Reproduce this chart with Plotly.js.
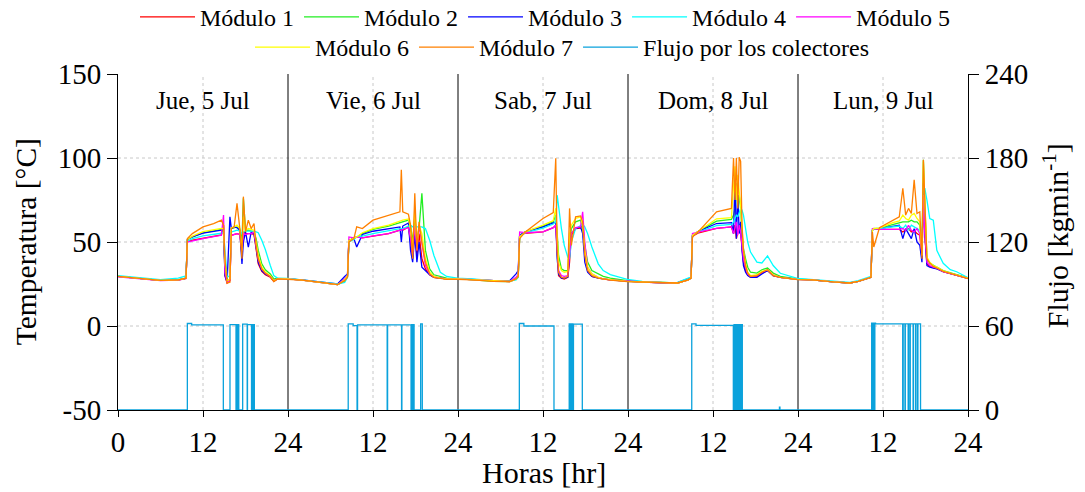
<!DOCTYPE html>
<html>
<head>
<meta charset="utf-8">
<script src="https://cdn.plot.ly/plotly-3.0.1.min.js"></script>
<style>html,body{margin:0;padding:0;background:#fff;}#chart{width:1085px;height:492px;}</style>
</head>
<body>
<div id="chart"></div>
<script>
// ---------- data ----------
const horas = [
  0, 3, 6, 8.5, 9.6, 9.8, 10.5, 12, 13.5, 14.6, 14.9, 15.1, 15.4, 15.8, 16.0, 16.4, 16.8, 17.2, 17.5, 17.7, 18.0, 18.4, 18.8, 19.2, 19.5, 19.8, 20.3, 20.8, 21.5, 22.0, 22.5, 23.9,
  26, 29, 31, 32.0, 32.4, 32.6, 33.3, 33.7, 34.5, 36, 38.2, 39.8, 40.0, 40.2, 41.0, 41.3, 41.6, 41.9, 42.2, 42.5, 42.9, 43.4, 44.0, 44.6, 45.5, 46.4, 47.9,
  50, 53, 55.3, 56.2, 56.5, 56.7, 57.5, 60.0, 61.45, 61.8, 62.0, 62.2, 62.6, 63.0, 63.5, 63.75, 64.0, 64.6, 65.3, 65.6, 65.9, 66.3, 66.9, 67.8, 68.5, 69.5, 71.9,
  74, 77.9, 79.0, 80.5, 80.9, 81.1, 82.0, 84.5, 86.6, 86.9, 87.1, 87.3, 87.5, 87.7, 87.9, 88.1, 88.3, 88.6, 88.9, 89.3, 90.2, 90.9, 91.7, 92.5, 93.5, 95.9,
  98, 101, 103.3, 104.5, 105.8, 106.3, 106.5, 106.7, 107.5, 109.4, 110.3, 110.8, 111.2, 111.6, 112.0, 112.4, 112.8, 113.2, 113.5, 113.7, 113.9, 114.2, 114.6, 115.1, 115.6, 116.5, 117.5, 118.4, 120
];

const modulo1 = [
  29.5, 28.4, 27.2, 27.3, 28.3, 50.5, 51.0, 52.5, 53.5, 54.2, 60.0, 30.0, 25.5, 27.0, 54.0, 54.5, 55.0, 54.5, 42.0, 56.0, 55.0, 55.0, 55.0, 54.5, 46.0, 37.0, 32.5, 30.5, 29.0, 26.5, 28.0, 28.0,
  27.3, 25.8, 24.6, 27.0, 29.5, 51.0, 52.0, 53.0, 52.5, 53.6, 55.0, 57.0, 57.5, 57.0, 59.0, 50.0, 40.0, 58.0, 42.0, 55.0, 40.0, 34.0, 30.5, 29.0, 28.5, 28.0, 28.0,
  27.5, 26.6, 26.5, 28.0, 29.5, 54.0, 55.2, 56.0, 58.5, 60.0, 40.0, 30.0, 28.5, 28.0, 29.0, 38.0, 54.0, 58.0, 58.3, 62.0, 45.0, 33.0, 29.5, 28.5, 28.0, 27.5, 26.6,
  26.2, 25.6, 25.6, 27.5, 28.5, 53.5, 55.5, 58.1, 59.0, 55.0, 60.0, 52.0, 56.0, 60.0, 55.0, 45.0, 38.0, 33.0, 30.5, 29.0, 29.5, 31.5, 33.0, 30.0, 29.0, 27.8,
  27.5, 26.3, 25.6, 26.5, 28.4, 29.0, 57.0, 58.0, 57.5, 57.5, 57.5, 56.0, 57.0, 58.0, 56.0, 57.0, 55.0, 54.0, 40.0, 80.0, 55.0, 37.0, 35.5, 34.8, 34.2, 32.3, 31.3, 30.4, 28.4
];
const modulo2 = [
  29.5, 28.4, 27.2, 27.5, 28.5, 51.5, 53.0, 55.5, 56.8, 57.5, 56.0, 35.0, 27.0, 28.0, 58.0, 58.5, 59.0, 57.5, 50.0, 76.0, 57.0, 57.0, 56.5, 56.0, 52.0, 45.0, 37.0, 33.5, 31.0, 28.0, 28.3, 28.2,
  27.3, 25.8, 24.6, 27.0, 29.5, 51.0, 52.0, 53.0, 55.0, 57.5, 59.5, 61.4, 61.5, 62.0, 63.0, 60.0, 50.0, 65.0, 52.0, 58.0, 79.0, 45.0, 34.0, 30.5, 29.5, 28.5, 28.2,
  27.5, 26.6, 26.5, 28.0, 29.0, 54.0, 56.0, 59.4, 62.0, 66.0, 55.0, 42.0, 34.0, 33.0, 33.0, 50.0, 58.0, 62.0, 63.0, 58.0, 48.0, 38.0, 33.0, 31.0, 29.5, 28.5, 27.0,
  26.2, 25.6, 25.6, 27.5, 28.5, 54.0, 56.5, 62.4, 63.5, 66.0, 70.0, 85.0, 68.0, 78.0, 70.0, 55.0, 46.0, 40.0, 35.0, 32.0, 31.5, 33.5, 34.5, 31.5, 29.5, 28.0,
  27.5, 26.3, 25.6, 26.5, 28.4, 29.0, 57.0, 58.0, 58.3, 60.5, 61.5, 62.0, 62.0, 62.0, 63.0, 62.0, 62.0, 60.0, 45.0, 99.0, 72.0, 40.0, 37.5, 36.0, 35.0, 33.0, 31.5, 30.6, 28.6
];
const modulo3 = [
  29.5, 28.4, 27.2, 27.5, 28.5, 51.5, 53.0, 55.3, 56.5, 57.0, 58.0, 30.0, 26.0, 65.0, 58.0, 59.0, 58.5, 57.0, 37.0, 50.0, 56.0, 47.0, 56.0, 55.0, 47.0, 38.0, 33.0, 31.0, 29.5, 27.0, 28.0, 28.0,
  27.5, 26.0, 25.0, 29.5, 31.0, 51.0, 52.0, 47.0, 54.5, 56.4, 57.7, 59.0, 50.0, 59.5, 61.3, 45.0, 38.0, 55.0, 38.0, 50.0, 35.0, 33.0, 30.5, 29.0, 28.5, 28.0, 28.0,
  27.8, 27.0, 27.0, 31.0, 33.0, 54.0, 56.0, 59.0, 61.5, 62.0, 40.0, 31.0, 28.5, 28.5, 29.0, 40.0, 55.0, 58.0, 59.0, 55.0, 38.0, 32.0, 29.5, 28.5, 28.0, 27.5, 26.6,
  26.2, 25.6, 25.8, 28.0, 28.8, 54.0, 56.5, 61.0, 61.5, 55.0, 87.0, 52.0, 78.0, 55.0, 62.0, 45.0, 36.0, 32.0, 30.0, 29.0, 29.0, 31.0, 33.0, 30.0, 29.0, 27.8,
  27.5, 26.3, 25.6, 26.5, 28.4, 29.0, 57.0, 58.0, 58.0, 59.5, 60.0, 52.0, 58.0, 55.0, 52.0, 58.0, 50.0, 48.0, 38.0, 85.0, 55.0, 36.0, 35.0, 34.5, 34.0, 32.3, 31.3, 30.4, 28.4
];
const modulo4 = [
  30.0, 28.8, 27.6, 28.5, 29.8, 50.5, 52.0, 53.6, 54.6, 55.2, 56.0, 45.0, 29.0, 30.0, 56.0, 56.5, 57.0, 56.5, 55.0, 56.0, 56.5, 56.5, 56.5, 56.5, 56.0, 55.5, 51.0, 45.5, 36.0, 30.0, 28.5, 28.3,
  27.5, 26.0, 25.0, 26.0, 29.0, 50.0, 51.5, 53.0, 53.5, 55.0, 57.0, 58.0, 58.0, 58.0, 59.5, 60.0, 59.0, 59.0, 59.0, 59.0, 59.0, 58.0, 51.0, 42.0, 32.0, 29.5, 28.5,
  28.0, 27.0, 26.8, 27.5, 29.0, 53.0, 55.5, 58.3, 60.7, 62.0, 78.0, 70.0, 58.0, 48.0, 41.0, 40.0, 50.0, 58.0, 60.0, 60.5, 59.0, 55.0, 47.0, 37.0, 33.0, 30.6, 27.8,
  26.5, 25.8, 26.0, 28.5, 29.0, 54.0, 56.0, 59.8, 60.5, 62.0, 64.0, 66.0, 65.0, 68.0, 70.0, 69.0, 66.0, 58.0, 50.0, 44.0, 38.0, 37.5, 41.7, 36.0, 31.4, 28.4,
  27.8, 26.6, 26.0, 27.0, 29.0, 29.5, 57.0, 58.0, 58.0, 58.8, 59.5, 58.0, 60.0, 57.0, 60.0, 59.0, 58.0, 57.0, 55.0, 70.0, 82.0, 75.0, 64.0, 63.0, 45.0, 37.3, 33.5, 32.3, 28.8
];
const modulo5 = [
  29.3, 28.2, 27.0, 27.3, 28.3, 50.0, 50.5, 52.0, 53.2, 54.0, 66.0, 32.0, 26.0, 27.0, 54.0, 54.5, 55.0, 54.5, 45.0, 55.0, 54.5, 55.0, 55.0, 56.0, 48.0, 40.0, 34.0, 31.5, 29.5, 27.0, 28.0, 28.0,
  27.3, 25.8, 24.6, 28.0, 30.0, 53.0, 52.5, 53.0, 52.5, 53.6, 55.0, 57.0, 57.0, 57.5, 58.5, 52.0, 42.0, 60.0, 45.0, 60.0, 48.0, 36.0, 31.0, 29.5, 28.5, 28.0, 28.0,
  27.5, 26.6, 26.5, 29.0, 30.5, 56.0, 55.5, 56.0, 58.5, 60.0, 45.0, 33.0, 30.0, 29.5, 30.0, 45.0, 55.0, 58.5, 59.0, 68.0, 50.0, 35.0, 31.0, 29.0, 28.0, 27.5, 26.6,
  26.2, 25.6, 25.6, 27.5, 28.5, 55.0, 56.0, 58.1, 59.0, 55.0, 58.0, 62.0, 54.0, 60.0, 56.0, 48.0, 40.0, 35.0, 31.0, 29.5, 30.0, 32.0, 33.5, 30.5, 29.0, 27.8,
  27.5, 26.3, 25.6, 26.5, 28.4, 29.0, 58.0, 58.0, 57.5, 57.3, 57.5, 58.0, 57.0, 60.0, 57.0, 56.0, 58.0, 55.0, 42.0, 78.0, 55.0, 38.0, 36.0, 35.0, 34.4, 32.3, 31.3, 30.4, 28.4
];
const modulo6 = [
  29.5, 28.4, 27.2, 27.5, 28.5, 51.5, 53.5, 56.2, 57.5, 58.1, 58.0, 38.0, 27.0, 28.0, 58.5, 59.0, 60.0, 58.0, 45.0, 65.0, 57.0, 58.0, 57.5, 57.0, 50.0, 42.0, 35.0, 32.0, 30.0, 27.0, 28.0, 28.0,
  27.3, 25.8, 24.6, 27.5, 30.0, 51.0, 52.5, 53.0, 55.5, 58.0, 60.0, 62.7, 63.0, 63.0, 63.7, 58.0, 45.0, 70.0, 48.0, 60.0, 55.0, 40.0, 32.0, 29.5, 28.5, 28.0, 28.0,
  27.5, 26.6, 26.5, 28.0, 29.5, 53.0, 56.0, 60.0, 62.7, 70.0, 50.0, 38.0, 33.0, 32.0, 32.5, 55.0, 60.0, 64.0, 65.0, 60.0, 45.0, 35.0, 31.0, 29.0, 28.0, 27.5, 26.6,
  26.2, 25.6, 25.6, 27.5, 28.5, 54.0, 56.5, 63.8, 64.5, 80.0, 95.0, 75.0, 90.0, 80.0, 72.0, 58.0, 45.0, 37.0, 32.0, 30.0, 30.5, 32.5, 33.5, 30.5, 29.0, 27.8,
  27.5, 26.3, 25.6, 26.5, 28.4, 29.0, 57.0, 58.0, 58.3, 61.5, 62.5, 66.0, 64.0, 63.0, 66.0, 67.0, 64.0, 62.0, 42.0, 98.0, 75.0, 41.0, 38.0, 36.0, 35.0, 32.8, 31.5, 30.5, 28.5
];
const modulo7 = [
  29.5, 28.4, 27.2, 27.5, 28.5, 52.0, 55.0, 59.0, 61.0, 63.0, 60.0, 40.0, 25.5, 26.0, 58.0, 59.0, 73.0, 58.0, 40.0, 77.0, 56.0, 63.0, 58.0, 61.0, 48.0, 40.0, 34.0, 31.5, 29.5, 26.5, 28.0, 27.8,
  27.3, 25.8, 24.6, 27.0, 29.0, 50.0, 52.0, 59.0, 58.0, 63.0, 66.0, 68.0, 93.0, 68.0, 66.5, 60.0, 40.0, 79.0, 45.0, 62.0, 50.0, 38.0, 31.0, 29.0, 28.3, 27.8, 27.8,
  27.5, 26.6, 26.5, 28.0, 29.5, 52.0, 56.0, 64.0, 67.5, 99.8, 45.0, 32.0, 29.0, 28.5, 29.5, 70.0, 48.0, 65.0, 65.5, 62.0, 42.0, 33.0, 30.0, 28.5, 28.0, 27.3, 26.4,
  26.2, 25.6, 25.6, 27.5, 28.5, 53.0, 56.5, 68.0, 70.0, 100.0, 75.0, 100.0, 70.0, 100.5, 98.0, 60.0, 45.0, 36.0, 31.5, 29.5, 30.0, 32.0, 33.5, 30.0, 29.0, 27.6,
  27.5, 26.3, 25.6, 26.5, 28.4, 29.0, 56.0, 47.0, 58.5, 63.0, 65.0, 82.0, 66.0, 70.0, 67.0, 87.0, 67.0, 68.0, 40.0, 99.0, 70.0, 40.0, 37.5, 35.5, 34.5, 32.5, 31.3, 30.3, 28.2
];

// flow through collectors (kg/min), step-wise
const flujoHoras = [
  0, 9.79, 10.4, 14.87, 15.81, 16.66, 16.72, 16.9, 16.99, 17.05, 17.6, 18.24, 18.28, 18.85, 18.9, 19.08, 19.12, 19.25,
  32.5, 33.2, 33.75, 33.82, 38.0, 38.06, 40.03, 40.08, 41.37, 41.45, 41.6, 41.67, 41.8, 42.73, 42.96,
  56.66, 57.3, 61.55, 63.7, 63.78, 63.85, 63.92, 64.0, 64.08, 64.15, 64.22, 64.3, 65.55,
  81.0, 81.6, 86.87, 86.97, 87.07, 87.17, 87.27, 87.37, 87.47, 87.57, 87.67, 87.77, 87.87, 87.97, 88.14, 93.38, 93.45,
  106.4, 106.48, 106.55, 106.63, 106.7, 106.78, 106.85, 106.95, 110.78, 110.85, 111.1, 111.15, 111.55, 111.6, 111.8, 111.85, 112.25, 112.3, 112.6, 112.65, 112.88, 112.93, 113.3, 120
];
const flujoValores = [
  0, 61.8, 60.8, 0, 61, 0, 61, 0, 61, 0, 61.3, 0, 61, 0, 61, 0, 61, 0,
  61.5, 60.3, 0, 60.8, 0, 60.8, 0, 60.8, 0, 61, 0, 61, 0, 61.5, 0,
  61.8, 60.0, 0, 61.5, 0, 61.5, 0, 61.5, 0, 61.5, 0, 61.3, 0,
  61.5, 60.5, 0, 61, 0, 61, 0, 61, 0, 61, 0, 61, 0, 61, 0, 2, 0,
  62, 0, 62, 0, 62, 0, 62, 61.5, 0, 61.5, 0, 61.5, 0, 61.5, 0, 61.5, 0, 61.5, 0, 61.5, 0, 61.5, 0, 0
];

const nombres = ['Módulo 1', 'Módulo 2', 'Módulo 3', 'Módulo 4', 'Módulo 5', 'Módulo 6', 'Módulo 7'];
const colores = ['#ff0000', '#22ee22', '#0000ff', '#00ffff', '#ff00ff', '#ffff00', '#ff8000'];
const nombreFlujo = 'Flujo por los colectores';
const colorFlujo = '#0aa2dc';
const dias = ['Jue, 5 Jul', 'Vie, 6 Jul', 'Sab, 7 Jul', 'Dom, 8 Jul', 'Lun, 9 Jul'];
const tituloX = 'Horas [hr]';
const tituloY = 'Temperatura [°C]';
const tituloY2 = 'Flujo [kgmin<sup>-1</sup>]';
const xTicks = [0, 12, 24, 36, 48, 60, 72, 84, 96, 108, 120];
const xTickText = ['0', '12', '24', '12', '24', '12', '24', '12', '24', '12', '24'];
const yTicks = [-50, 0, 50, 100, 150];
const yTickText = ['-50', '0', '50', '100', '150'];
const y2Ticks = [0, 60, 120, 180, 240];
const xGrid = [12, 36, 60, 84, 108];
const yGrid = [0, 50, 100];
const separadores = [24, 48, 72, 96];

// ---------- traces ----------
const series = [modulo1, modulo2, modulo3, modulo4, modulo5, modulo6, modulo7];
const data = series.map((vals, i) => ({
  type: 'scatter', mode: 'lines', x: horas, y: vals, name: nombres[i],
  line: {color: colores[i], width: 1.3},
  legend: i < 5 ? 'legend' : 'legend2', hoverinfo: 'skip'
}));
data.push({
  type: 'scatter', mode: 'lines', x: flujoHoras, y: flujoValores, name: nombreFlujo,
  yaxis: 'y2', line: {color: colorFlujo, width: 1.3, shape: 'hv'},
  legend: 'legend2', hoverinfo: 'skip'
});

const FONT = 'Liberation Serif, Times New Roman, serif';
const legendCommon = {
  orientation: 'h', xref: 'container', yref: 'paper', xanchor: 'left', yanchor: 'top',
  font: {family: FONT, size: 24, color: '#000'}, bgcolor: 'rgba(0,0,0,0)', itemwidth: 55,
  itemclick: false, itemdoubleclick: false
};

const gridShapes = [];
xGrid.forEach(v => gridShapes.push({
  type: 'line', xref: 'x', yref: 'paper', x0: v, x1: v, y0: 0, y1: 1,
  line: {color: '#c8c8c8', width: 1, dash: 'dot'}, layer: 'below'
}));
yGrid.forEach(v => gridShapes.push({
  type: 'line', xref: 'paper', yref: 'y', x0: 0, x1: 1, y0: v, y1: v,
  line: {color: '#c8c8c8', width: 1, dash: 'dot'}, layer: 'below'
}));
separadores.forEach(v => gridShapes.push({
  type: 'line', xref: 'x', yref: 'paper', x0: v, x1: v, y0: 0, y1: 1,
  line: {color: '#000', width: 1}, layer: 'below'
}));

const annots = dias.map((d, i) => ({
  text: d, xref: 'x', yref: 'y', x: i * 24 + 12, y: 134.5, showarrow: false,
  xanchor: 'center', yanchor: 'middle', font: {family: FONT, size: 25, color: '#000'}
}));
annots.push({
  text: tituloX, xref: 'paper', yref: 'paper', x: 0.501, y: -0.186, showarrow: false,
  xanchor: 'center', yanchor: 'middle', font: {family: FONT, size: 30, color: '#000'}
});
annots.push({
  text: tituloY, xref: 'paper', yref: 'paper', x: -0.108, y: 0.50, showarrow: false,
  textangle: -90, xanchor: 'center', yanchor: 'middle', font: {family: FONT, size: 29.5, color: '#000'}
});
annots.push({
  text: tituloY2, xref: 'paper', yref: 'paper', x: 1.1035, y: 0.52, showarrow: false,
  textangle: -90, xanchor: 'center', yanchor: 'middle', font: {family: FONT, size: 30, color: '#000'}
});

const layout = {
  width: 1085, height: 492,
  margin: {l: 118, r: 117, t: 74, b: 82, autoexpand: false},
  paper_bgcolor: '#fff', plot_bgcolor: '#fff',
  font: {family: FONT, color: '#000', size: 24},
  showlegend: true,
  legend: Object.assign({}, legendCommon, {x: 135 / 1085, y: 1.236}),
  legend2: Object.assign({}, legendCommon, {x: 250 / 1085, y: 1.146}),
  xaxis: {
    range: [0, 120], tickmode: 'array', tickvals: xTicks, ticktext: xTickText,
    showline: true, linecolor: '#000', linewidth: 1, ticks: 'outside', ticklen: 6, tickcolor: '#000',
    showgrid: false, zeroline: false,
    tickfont: {family: FONT, size: 29}, layer: 'below traces'
  },
  yaxis: {
    range: [-50, 150], tickmode: 'array', tickvals: yTicks, ticktext: yTickText,
    showline: true, linecolor: '#000', linewidth: 1, ticks: 'outside', ticklen: 10, tickcolor: '#000',
    showgrid: false, zeroline: false,
    tickfont: {family: FONT, size: 29}
  },
  yaxis2: {
    overlaying: 'y', side: 'right', range: [0, 240], tickmode: 'array', tickvals: y2Ticks,
    showline: true, linecolor: '#000', linewidth: 1, ticks: 'outside', ticklen: 10, tickcolor: '#000',
    showgrid: false, zeroline: false, tickfont: {family: FONT, size: 29}
  },
  shapes: gridShapes,
  annotations: annots
};

Plotly.newPlot('chart', data, layout, {displayModeBar: false, staticPlot: true});
</script>
</body>
</html>
